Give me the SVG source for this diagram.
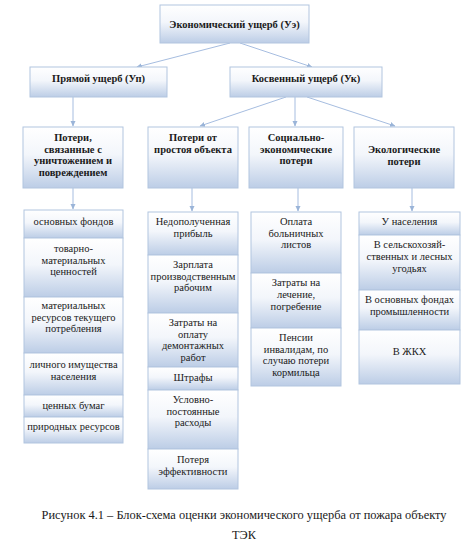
<svg xmlns="http://www.w3.org/2000/svg" width="468" height="559" viewBox="0 0 468 559">
<defs>
<linearGradient id="g" x1="0" y1="0" x2="0" y2="1">
<stop offset="0" stop-color="#ffffff"/>
<stop offset="0.45" stop-color="#f3f6fb"/>
<stop offset="1" stop-color="#bccde6"/>
</linearGradient>
<marker id="ah" viewBox="0 0 6 6" refX="5" refY="3" markerWidth="6" markerHeight="6" orient="auto" markerUnits="userSpaceOnUse">
<path d="M0,0.5 L5.5,3 L0,5.5 Z" fill="#9ab4d8"/>
</marker>
<style>
.b{fill:url(#g);stroke:#b2c5df;stroke-width:1}
.t{font-family:"Liberation Serif","Times New Roman",serif;font-size:10.5px;fill:#1a1a1a;text-anchor:middle}
.h{font-family:"Liberation Serif","Times New Roman",serif;font-size:10.5px;font-weight:bold;fill:#1a1a1a;text-anchor:middle}
.c{font-family:"Liberation Serif","Times New Roman",serif;font-size:12.4px;fill:#1a1a1a;text-anchor:middle}
.l{stroke:#a6bde0;stroke-width:1;fill:none;marker-end:url(#ah)}
</style>
</defs>
<rect width="468" height="559" fill="#ffffff"/>

<g id="connectors">
<line class="l" x1="230" y1="43" x2="137" y2="67"/>
<line class="l" x1="240" y1="43" x2="312" y2="67"/>
<line class="l" x1="73" y1="97" x2="73" y2="126"/>
<line class="l" x1="286" y1="97" x2="200" y2="126"/>
<line class="l" x1="295" y1="97" x2="295" y2="126"/>
<line class="l" x1="307" y1="97" x2="395" y2="126"/>
<line class="l" x1="73" y1="188" x2="73" y2="209"/>
<line class="l" x1="192" y1="188" x2="192" y2="211"/>
<line class="l" x1="298" y1="188" x2="298" y2="211"/>
<line class="l" x1="412" y1="188" x2="412" y2="211"/>
</g>

<g id="n-ue"><rect class="b" x="160" y="5" width="149" height="38"/><text class="h" x="234.5" y="28">Экономический ущерб (Уэ)</text></g>
<g id="n-up"><rect class="b" x="30" y="67" width="137" height="30"/><text class="h" x="98.5" y="82">Прямой ущерб (Уп)</text></g>
<g id="n-uk"><rect class="b" x="230" y="67" width="152" height="30"/><text class="h" x="306" y="82">Косвенный ущерб (Ук)</text></g>

<g id="n-destr"><rect class="b" x="23" y="127" width="100" height="61"/>
<text class="h" x="73" y="141">Потери,</text><text class="h" x="73" y="152.5">связанные с</text><text class="h" x="73" y="164">уничтожением и</text><text class="h" x="73" y="175.5">повреждением</text></g>
<g id="n-idle"><rect class="b" x="148" y="127" width="90" height="61"/>
<text class="h" x="193" y="141">Потери от</text><text class="h" x="193" y="152.5">простоя объекта</text></g>
<g id="n-soc"><rect class="b" x="249" y="127" width="94" height="61"/>
<text class="h" x="296" y="141">Социально-</text><text class="h" x="296" y="152.5">экономические</text><text class="h" x="296" y="164">потери</text></g>
<g id="n-eco"><rect class="b" x="354" y="127" width="100" height="61"/>
<text class="h" x="404" y="152.5">Экологические</text><text class="h" x="404" y="165">потери</text></g>

<g id="l1-1"><rect class="b" x="24" y="210" width="99" height="28"/><text class="t" x="73.5" y="225">основных фондов</text></g>
<g id="l1-2"><rect class="b" x="24" y="238" width="99" height="59"/><text class="t" x="73.5" y="252">товарно-</text><text class="t" x="73.5" y="263.5">материальных</text><text class="t" x="73.5" y="275">ценностей</text></g>
<g id="l1-3"><rect class="b" x="24" y="297" width="99" height="56"/><text class="t" x="73.5" y="309">материальных</text><text class="t" x="73.5" y="320.5">ресурсов текущего</text><text class="t" x="73.5" y="332">потребления</text></g>
<g id="l1-4"><rect class="b" x="24" y="353" width="99" height="42"/><text class="t" x="73.5" y="368">личного имущества</text><text class="t" x="73.5" y="380">населения</text></g>
<g id="l1-5"><rect class="b" x="24" y="395" width="99" height="22"/><text class="t" x="73.5" y="409">ценных бумаг</text></g>
<g id="l1-6"><rect class="b" x="24" y="417" width="99" height="26"/><text class="t" x="73.5" y="430">природных ресурсов</text></g>

<g id="l2-1"><rect class="b" x="148" y="212" width="90" height="43"/><text class="t" x="193" y="225">Недополученная</text><text class="t" x="193" y="237">прибыль</text></g>
<g id="l2-2"><rect class="b" x="148" y="255" width="90" height="58"/><text class="t" x="193" y="268">Зарплата</text><text class="t" x="193" y="279.5">производственным</text><text class="t" x="193" y="291">рабочим</text></g>
<g id="l2-3"><rect class="b" x="148" y="313" width="90" height="54"/><text class="t" x="193" y="326">Затраты на</text><text class="t" x="193" y="337.5">оплату</text><text class="t" x="193" y="349">демонтажных</text><text class="t" x="193" y="360.5">работ</text></g>
<g id="l2-4"><rect class="b" x="148" y="367" width="90" height="23"/><text class="t" x="193" y="381">Штрафы</text></g>
<g id="l2-5"><rect class="b" x="148" y="390" width="90" height="59"/><text class="t" x="193" y="403">Условно-</text><text class="t" x="193" y="414.5">постоянные</text><text class="t" x="193" y="426">расходы</text></g>
<g id="l2-6"><rect class="b" x="148" y="449" width="90" height="40"/><text class="t" x="193" y="463">Потеря</text><text class="t" x="193" y="475">эффективности</text></g>

<g id="l3-1"><rect class="b" x="251" y="212" width="90" height="61"/><text class="t" x="296" y="225">Оплата</text><text class="t" x="296" y="236.5">больничных</text><text class="t" x="296" y="248">листов</text></g>
<g id="l3-2"><rect class="b" x="251" y="273" width="90" height="55"/><text class="t" x="296" y="286">Затраты на</text><text class="t" x="296" y="298">лечение,</text><text class="t" x="296" y="310">погребение</text></g>
<g id="l3-3"><rect class="b" x="251" y="328" width="90" height="58"/><text class="t" x="296" y="341">Пенсии</text><text class="t" x="296" y="352.5">инвалидам, по</text><text class="t" x="296" y="364">случаю потери</text><text class="t" x="296" y="375.5">кормильца</text></g>

<g id="l4-1"><rect class="b" x="359" y="212" width="101" height="23"/><text class="t" x="409.5" y="225">У населения</text></g>
<g id="l4-2"><rect class="b" x="359" y="235" width="101" height="55"/><text class="t" x="409.5" y="248">В сельскохозяй-</text><text class="t" x="409.5" y="260">ственных и лесных</text><text class="t" x="409.5" y="272">угодьях</text></g>
<g id="l4-3"><rect class="b" x="359" y="290" width="101" height="40"/><text class="t" x="409.5" y="303">В основных фондах</text><text class="t" x="409.5" y="315">промышленности</text></g>
<g id="l4-4"><rect class="b" x="359" y="330" width="101" height="54"/><text class="t" x="409.5" y="355">В ЖКХ</text></g>

<g id="caption">
<text class="c" x="244" y="519">Рисунок 4.1 – Блок-схема оценки экономического ущерба от пожара объекту</text>
<text class="c" x="244" y="539">ТЭК</text>
</g>
</svg>
